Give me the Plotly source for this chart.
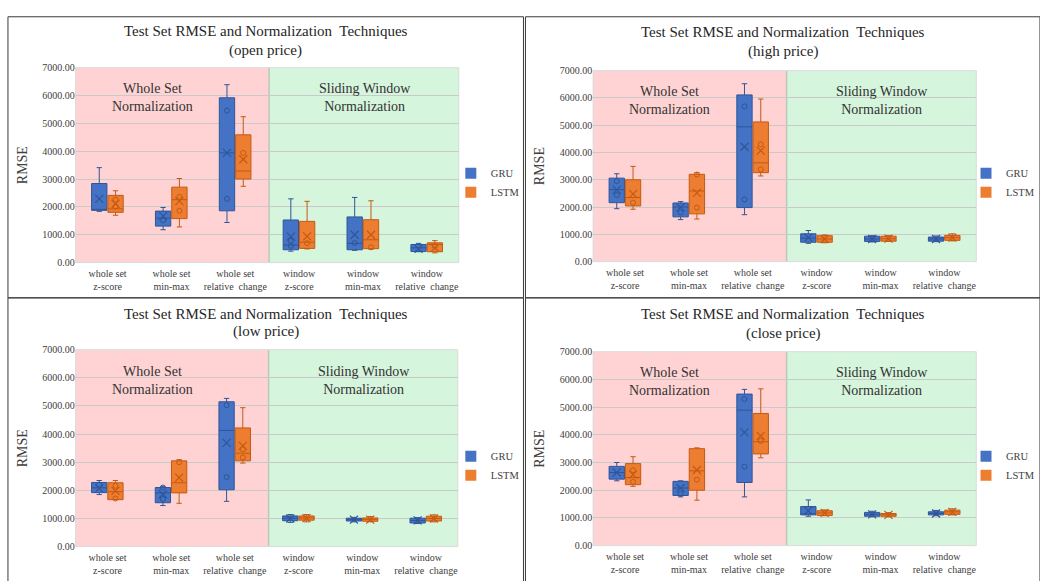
import plotly.graph_objects as go

# ---------------- data ----------------
categories = ["whole set<br>z-score", "whole set<br>min-max", "whole set<br>relative  change",
              "window<br>z-score", "window<br>min-max", "window<br>relative  change"]
panel_names = ["open price", "high price", "low price", "close price"]
series = ["GRU", "LSTM"]

# open price
open_gru_lo = [1840, 1180, 1440, 410, 440, 390]
open_gru_q1 = [1876, 1310, 1860, 460, 460, 400]
open_gru_med = [1900, 1600, 3940, 630, 690, 530]
open_gru_q3 = [2840, 1850, 5920, 1530, 1640, 650]
open_gru_hi = [3410, 1980, 6390, 2290, 2340, 690]
open_gru_mean = [2290, 1670, 3940, 930, 1000, 490]
open_gru_pts = [[], [1520], [5460, 2290], [780, 600], [700], []]
open_lstm_lo = [1700, 1280, 2740, 490, 480, 350]
open_lstm_q1 = [1805, 1580, 3000, 510, 500, 390]
open_lstm_med = [1930, 2260, 3290, 730, 820, 650]
open_lstm_q3 = [2415, 2710, 4590, 1480, 1540, 710]
open_lstm_hi = [2580, 3020, 5240, 2200, 2220, 790]
open_lstm_mean = [2110, 2210, 3710, 940, 1000, 530]
open_lstm_pts = [[2260, 2020], [2360, 1860], [3940], [700], [550], [600]]

# high price
high_gru_lo = [1940, 1540, 1720, 670, 720, 730]
high_gru_q1 = [2160, 1640, 1980, 710, 740, 750]
high_gru_med = [2640, 2000, 4940, 860, 830, 830]
high_gru_q3 = [3060, 2150, 6110, 1020, 930, 900]
high_gru_hi = [3220, 2200, 6520, 1140, 950, 940]
high_gru_mean = [2630, 1990, 4210, 880, 830, 830]
high_gru_pts = [[2950, 2440], [1800], [5690, 2280], [], [], []]
high_lstm_lo = [1920, 1560, 3140, 690, 740, 760]
high_lstm_q1 = [2040, 1750, 3260, 710, 750, 780]
high_lstm_med = [2350, 2590, 3620, 830, 840, 880]
high_lstm_q3 = [3000, 3200, 5120, 950, 930, 960]
high_lstm_hi = [3490, 3260, 5960, 980, 950, 1020]
high_lstm_mean = [2480, 2520, 4070, 830, 840, 880]
high_lstm_pts = [[2160], [3190, 1980], [4300, 3380], [], [], []]

# low price
low_gru_lo = [1850, 1460, 1610, 860, 880, 820]
low_gru_q1 = [1920, 1560, 2020, 920, 910, 840]
low_gru_med = [2090, 1910, 4130, 1010, 970, 930]
low_gru_q3 = [2280, 2100, 5150, 1090, 1010, 1010]
low_gru_hi = [2350, 2130, 5270, 1140, 1040, 1030]
low_gru_mean = [2070, 1860, 3690, 1000, 960, 930]
low_gru_pts = [[2200], [1690, 2100], [5030, 2470], [], [], []]
low_lstm_lo = [1670, 1540, 2970, 880, 880, 880]
low_lstm_q1 = [1670, 1910, 3050, 940, 900, 910]
low_lstm_med = [1950, 2270, 3320, 1020, 970, 1000]
low_lstm_q3 = [2270, 3050, 4220, 1090, 1020, 1080]
low_lstm_hi = [2350, 3090, 4940, 1140, 1070, 1130]
low_lstm_mean = [1980, 2450, 3580, 1010, 960, 1000]
low_lstm_pts = [[2160, 1710], [3000], [3460, 3170], [], [], []]

# close price
close_gru_lo = [2340, 1760, 1760, 1060, 1040, 1080]
close_gru_q1 = [2400, 1810, 2280, 1110, 1060, 1110]
close_gru_med = [2640, 2080, 4890, 1130, 1130, 1160]
close_gru_q3 = [2860, 2320, 5470, 1410, 1200, 1220]
close_gru_hi = [3000, 2340, 5640, 1650, 1240, 1270]
close_gru_mean = [2640, 2080, 4090, 1260, 1130, 1160]
close_gru_pts = [[], [1870], [5290, 2850], [], [], []]
close_lstm_lo = [2140, 1640, 3170, 1080, 1040, 1110]
close_lstm_q1 = [2200, 2000, 3310, 1090, 1060, 1130]
close_lstm_med = [2460, 2700, 3750, 1180, 1110, 1220]
close_lstm_q3 = [2960, 3500, 4770, 1260, 1160, 1280]
close_lstm_hi = [3210, 3530, 5660, 1290, 1190, 1330]
close_lstm_mean = [2560, 2730, 3960, 1180, 1110, 1220]
close_lstm_pts = [[2720, 2300], [2380], [3780], [], [], []]

y_ticks = [0, 1000, 2000, 3000, 4000, 5000, 6000, 7000]

panel_data = [
    [(open_gru_lo, open_gru_q1, open_gru_med, open_gru_q3, open_gru_hi, open_gru_mean, open_gru_pts),
     (open_lstm_lo, open_lstm_q1, open_lstm_med, open_lstm_q3, open_lstm_hi, open_lstm_mean, open_lstm_pts)],
    [(high_gru_lo, high_gru_q1, high_gru_med, high_gru_q3, high_gru_hi, high_gru_mean, high_gru_pts),
     (high_lstm_lo, high_lstm_q1, high_lstm_med, high_lstm_q3, high_lstm_hi, high_lstm_mean, high_lstm_pts)],
    [(low_gru_lo, low_gru_q1, low_gru_med, low_gru_q3, low_gru_hi, low_gru_mean, low_gru_pts),
     (low_lstm_lo, low_lstm_q1, low_lstm_med, low_lstm_q3, low_lstm_hi, low_lstm_mean, low_lstm_pts)],
    [(close_gru_lo, close_gru_q1, close_gru_med, close_gru_q3, close_gru_hi, close_gru_mean, close_gru_pts),
     (close_lstm_lo, close_lstm_q1, close_lstm_med, close_lstm_q3, close_lstm_hi, close_lstm_mean, close_lstm_pts)],
]

# ---------------- style ----------------
W, H = 1040, 581
FONT = "Liberation Serif"
fills = ["#4472C4", "#ED7D31"]
lines = ["#2F5597", "#C55A11"]
offsets = [-0.13, 0.125]
PINK = "#FFD3D4"
GREEN = "#D5F5DC"


def px(x):
    return x / W


def py(y):
    return 1 - y / H


# plot areas in pixels: (left, right, top, bottom)
plot_px = [(76, 461, 63, 262), (596, 981, 66, 261), (76, 460, 351, 552), (596, 981, 353, 551)]
title_px = [(267, 26, 45), (787, 27, 46), (267, 314, 332), (787, 315, 334)]
legend_px = [(453, 156), (971, 156), (453, 445), (971, 445)]
border_px = [(8, 526, 11, 298), (528, 1045, 11, 298), (8, 526, 298, 590), (528, 1045, 298, 590)]

fig = go.Figure()
layout = dict(
    width=W, height=H, margin=dict(l=0, r=0, t=0, b=0), autosize=False,
    paper_bgcolor="white", plot_bgcolor="white",
    font=dict(family=FONT, color="#404040"),
    shapes=[], annotations=[], hovermode=False,
)

for k in range(4):
    s = "" if k == 0 else str(k + 1)
    xa, ya = "x" + s, "y" + s
    L, R, T, B = plot_px[k]
    layout["xaxis" + s] = dict(
        domain=[px(L), px(R)], anchor=ya, range=[-0.5, 5.5], type="linear",
        tickvals=list(range(len(categories))), ticktext=categories,
        showgrid=False, zeroline=False, showline=False, ticks="", ticklabelstandoff=3,
        tickfont=dict(family=FONT, size=10, color="#404040"),
    )
    layout["yaxis" + s] = dict(
        domain=[py(B), py(T)], anchor=xa, range=[0, 7000],
        tickvals=y_ticks, tickformat=".2f",
        showgrid=True, gridcolor="#C9C9C9", gridwidth=1, zeroline=False, showline=False,
        tickfont=dict(family=FONT, size=10, color="#404040"),
        title=dict(text="RMSE", font=dict(family=FONT, size=14, color="#404040"), standoff=11),
    )
    # shaded regions
    layout["shapes"] += [
        dict(type="rect", xref=xa + " domain", yref=ya + " domain", x0=0, x1=0.505, y0=0, y1=1,
             fillcolor=PINK, line=dict(width=0), layer="below"),
        dict(type="rect", xref=xa + " domain", yref=ya + " domain", x0=0.505, x1=1, y0=0, y1=1,
             fillcolor=GREEN, line=dict(width=0), layer="below"),
        dict(type="line", xref=xa + " domain", yref=ya + " domain", x0=0.505, x1=0.505, y0=0, y1=1,
             line=dict(color="#B8C8BC", width=1.5), layer="below"),
        dict(type="rect", xref=xa + " domain", yref=ya + " domain", x0=0, x1=1, y0=0, y1=1,
             line=dict(color="#DADADA", width=1), layer="below"),
    ]
    # panel border
    bl, br, bt, bb = border_px[k]
    layout["shapes"].append(dict(type="rect", xref="paper", yref="paper",
                                 x0=px(bl), x1=px(br), y0=py(bb), y1=py(bt),
                                 line=dict(color="#3A3A3A", width=1), fillcolor="rgba(0,0,0,0)"))
    # titles
    tx, ty1, ty2 = title_px[k]
    layout["annotations"] += [
        dict(text="Test Set RMSE and Normalization  Techniques", x=px(tx), y=py(ty1), xref="paper", yref="paper",
             showarrow=False, font=dict(family=FONT, size=15, color="#262626"), xanchor="center", yanchor="middle"),
        dict(text="(" + panel_names[k] + ")", x=px(tx), y=py(ty2), xref="paper", yref="paper",
             showarrow=False, font=dict(family=FONT, size=15, color="#262626"), xanchor="center", yanchor="middle"),
        dict(text="Whole Set<br>Normalization", x=0.2, y=0.845, xref=xa + " domain", yref=ya + " domain",
             showarrow=False, font=dict(family=FONT, size=14, color="#333333"), xanchor="center", yanchor="middle"),
        dict(text="Sliding Window<br>Normalization", x=0.755, y=0.845, xref=xa + " domain", yref=ya + " domain",
             showarrow=False, font=dict(family=FONT, size=14, color="#333333"), xanchor="center", yanchor="middle"),
    ]
    # legend
    lname = "legend" + s
    lx, ly = legend_px[k]
    layout[lname] = dict(x=px(lx), y=py(ly), xanchor="left", yanchor="top", bgcolor="rgba(0,0,0,0)",
                         font=dict(family=FONT, size=10.5, color="#404040"), itemwidth=30,
                         tracegroupgap=0)

    for j in range(2):
        lo, q1, med, q3, hi, mean, pts = panel_data[k][j]
        xs = [i + offsets[j] for i in range(len(categories))]
        fig.add_trace(go.Box(
            x=xs, lowerfence=lo, q1=q1, median=med, q3=q3, upperfence=hi,
            width=0.24, whiskerwidth=0.35, fillcolor=fills[j],
            line=dict(color=lines[j], width=1), name=series[j], showlegend=False,
            xaxis=xa, yaxis=ya,
        ))
        fig.add_trace(go.Scatter(
            x=xs, y=mean, mode="markers", showlegend=False, xaxis=xa, yaxis=ya,
            marker=dict(symbol="x-thin", size=8, color=lines[j], line=dict(color=lines[j], width=1.2)),
        ))
        px_list = [xs[i] for i in range(len(pts)) for _ in pts[i]]
        py_list = [v for i in range(len(pts)) for v in pts[i]]
        fig.add_trace(go.Scatter(
            x=px_list, y=py_list, mode="markers", showlegend=False, xaxis=xa, yaxis=ya,
            marker=dict(symbol="circle-open", size=5, color=lines[j], line=dict(color=lines[j], width=1)),
        ))
        fig.add_trace(go.Scatter(
            x=[None], y=[None], mode="markers", name=series[j], legend=lname, xaxis=xa, yaxis=ya,
            marker=dict(symbol="square", size=11, color=fills[j]),
        ))

fig.update_layout(**layout)
fig.write_html(
    "out.html",
    config={"responsive": False, "displayModeBar": False, "staticPlot": True},
    post_script=(
        "document.documentElement.style.margin='0';document.documentElement.style.overflow='hidden';"
        "document.body.style.margin='0';document.body.style.padding='0';document.body.style.overflow='hidden';"
        "var d=document.getElementById('{plot_id}');d.style.position='fixed';d.style.left='0px';d.style.top='0px';"
    ),
)
